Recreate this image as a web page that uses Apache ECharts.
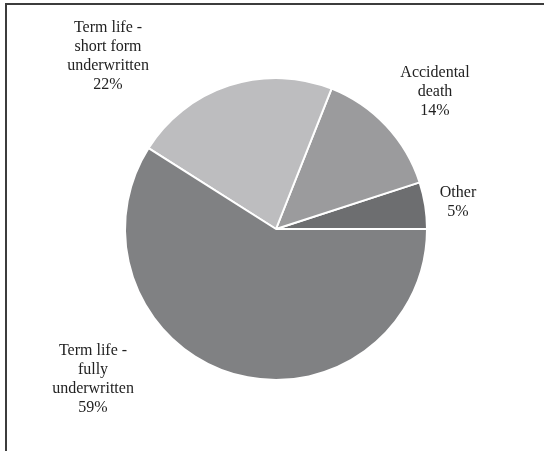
<!DOCTYPE html>
<html>
<head>
<meta charset="utf-8">
<script src="https://cdn.jsdelivr.net/npm/echarts@6/dist/echarts.min.js"></script>
<style>
  html, body { margin: 0; padding: 0; background: #fff; }
  #chart { width: 544px; height: 451px; }
</style>
</head>
<body>
<div id="chart"></div>
<script>
// Product mix, share of total (%)
const categories = [
  'Other',
  'Accidental\ndeath',
  'Term life -\nshort form\nunderwritten',
  'Term life -\nfully\nunderwritten'
];
const shares = [5, 14, 22, 59];
const sliceColors = ['#6d6e70', '#9b9b9d', '#bdbdbf', '#808183'];

// Label anchor points (centre of each text block)
const labelAnchors = [
  [458, 202],
  [435, 92],
  [108, 56],
  [93, 379]
];

const chart = echarts.init(document.getElementById('chart'), null, { renderer: 'canvas' });

chart.setOption({
  animation: false,
  backgroundColor: '#ffffff',
  graphic: [{
    type: 'polyline',
    shape: { points: [[6, 460], [6, 4], [560, 4]] },
    style: { stroke: '#3c3c3c', lineWidth: 2, fill: null },
    silent: true
  }],
  series: [{
    type: 'pie',
    center: [276, 229],
    radius: [0, 151],
    startAngle: 0,
    clockwise: false,
    avoidLabelOverlap: false,
    data: categories.map((name, i) => ({
      name: name,
      value: shares[i],
      itemStyle: { color: sliceColors[i] }
    })),
    itemStyle: { borderColor: '#ffffff', borderWidth: 2 },
    label: {
      show: true,
      position: 'outside',
      formatter: p => p.name + '\n' + p.value + '%',
      fontFamily: '"Liberation Serif", "DejaVu Serif", serif',
      fontSize: 16,
      lineHeight: 19,
      color: '#222222',
      align: 'center'
    },
    labelLine: { show: false },
    labelLayout: p => ({
      x: labelAnchors[p.dataIndex][0],
      y: labelAnchors[p.dataIndex][1],
      align: 'center',
      verticalAlign: 'middle'
    }),
    emphasis: { disabled: true }
  }]
});
</script>
</body>
</html>
